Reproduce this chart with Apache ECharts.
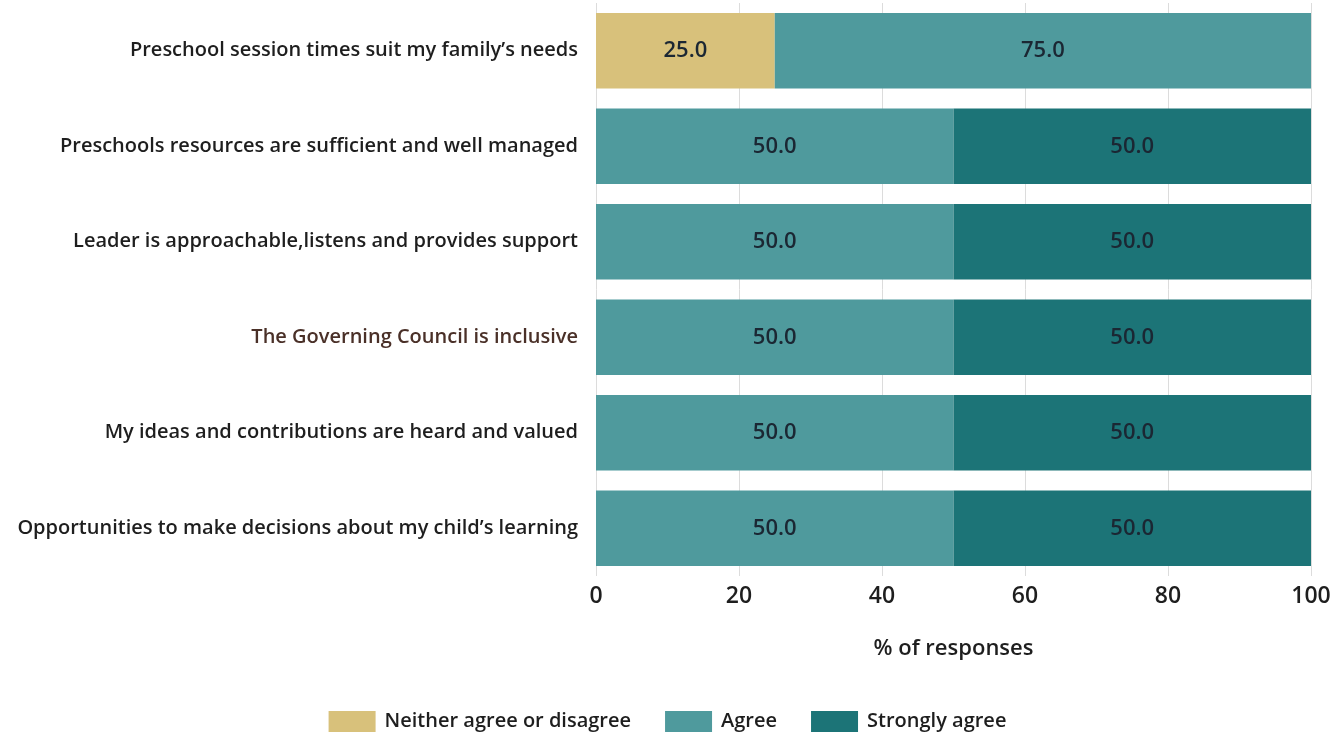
<!DOCTYPE html>
<html>
<head>
<meta charset="utf-8">
<script src="https://cdn.jsdelivr.net/npm/echarts@6/dist/echarts.min.js"></script>
<style>
  html, body { margin: 0; padding: 0; background: #ffffff; }
  #chart { width: 1335px; height: 737px; }
</style>
</head>
<body>
<div id="chart"></div>
<script>
// Survey statements, top to bottom
const categories = [
  "Preschool session times suit my family\u2019s needs",
  "Preschools resources are sufficient and well managed",
  "Leader is approachable,listens and provides support",
  "The Governing Council is inclusive",
  "My ideas and contributions are heard and valued",
  "Opportunities to make decisions about my child\u2019s learning"
];

// Percentage of responses per statement
const neitherValues = [25.0, null, null, null, null, null];
const agreeValues = [75.0, 50.0, 50.0, 50.0, 50.0, 50.0];
const stronglyValues = [null, 50.0, 50.0, 50.0, 50.0, 50.0];

const seriesNames = ["Neither agree or disagree", "Agree", "Strongly agree"];
const xTicks = [0, 20, 40, 60, 80, 100];

const colors = ["#d8c17b", "#4f9a9d", "#1c7477"];
const font = "'Open Sans', 'Noto Sans', sans-serif";

const chart = echarts.init(document.getElementById('chart'), null, { renderer: 'canvas' });

function barSeries(name, values, color) {
  return {
    name: name,
    type: 'bar',
    stack: 'total',
    barCategoryGap: '21%',
    data: values,
    itemStyle: { color: color },
    label: {
      show: true,
      position: 'inside',
      formatter: p => (p.value == null ? '' : Number(p.value).toFixed(1)),
      color: '#1b2733',
      fontFamily: font,
      fontSize: 22,
      fontWeight: 600
    },
    emphasis: { disabled: true }
  };
}

chart.setOption({
  backgroundColor: '#ffffff',
  animation: false,
  color: colors,
  grid: { left: 596, right: 24, top: 3, bottom: 161 },
  xAxis: {
    type: 'value',
    min: xTicks[0],
    max: xTicks[xTicks.length - 1],
    interval: xTicks[1] - xTicks[0],
    name: '% of responses',
    nameLocation: 'middle',
    nameGap: 62,
    nameTextStyle: { color: '#1e1e1e', fontFamily: font, fontSize: 22, fontWeight: 600 },
    axisLine: { show: false },
    axisTick: { show: false },
    axisLabel: { color: '#1e1e1e', fontFamily: font, fontSize: 23, fontWeight: 600, margin: 9 },
    splitLine: { show: true, lineStyle: { color: '#dcdcdc', width: 1 } }
  },
  yAxis: {
    type: 'category',
    inverse: true,
    data: categories.map((c, i) => i === 3
      ? { value: c, textStyle: { color: '#4a3028' } }
      : c),
    axisLine: { show: false },
    axisTick: { show: false },
    axisLabel: { color: '#1e1e1e', fontFamily: font, fontSize: 20, fontWeight: 600, margin: 18 }
  },
  legend: {
    bottom: 0,
    left: 'center',
    data: seriesNames,
    icon: 'rect',
    itemWidth: 47,
    itemHeight: 21,
    itemGap: 34,
    textStyle: { color: '#1e1e1e', fontFamily: font, fontSize: 20, fontWeight: 600, padding: [0, 0, 0, 4] }
  },
  series: [
    barSeries(seriesNames[0], neitherValues, colors[0]),
    barSeries(seriesNames[1], agreeValues, colors[1]),
    barSeries(seriesNames[2], stronglyValues, colors[2])
  ]
});
</script>
</body>
</html>
